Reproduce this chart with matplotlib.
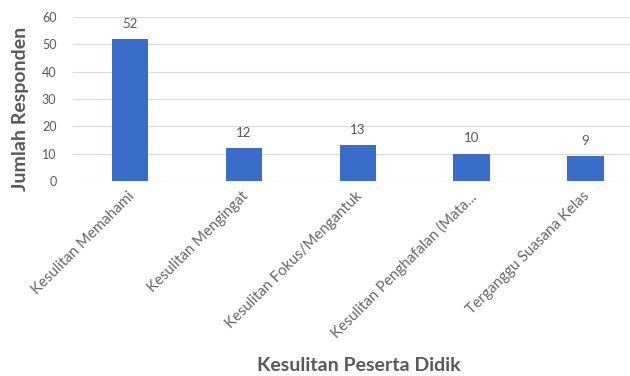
import matplotlib.pyplot as plt
from matplotlib.transforms import ScaledTranslation

# Data
categories = [
    "Kesulitan Memahami",
    "Kesulitan Mengingat",
    "Kesulitan Fokus/Mengantuk",
    "Kesulitan Penghafalan (Mata...",
    "Terganggu Suasana Kelas",
]
values = [52, 12, 13, 10, 9]
y_ticks = [0, 10, 20, 30, 40, 50, 60]

bar_color = "#3a6cc9"
text_gray = "#595959"

plt.rcParams['font.family'] = ['Lato', 'DejaVu Sans']

fig = plt.figure(figsize=(6.3, 3.76), dpi=100)
ax = fig.add_axes([0.116, 0.519, 0.884, 0.436])

x = range(len(categories))
bars = ax.bar(x, values, width=0.32, color=bar_color, zorder=3)

for b, v in zip(bars, values):
    ax.annotate(str(v), (b.get_x() + b.get_width() / 2, v), xytext=(0, 11),
                textcoords='offset points', ha='center', va='center',
                fontsize=9.5, color=text_gray, annotation_clip=False)

ax.set_xlim(-0.5, 4.39)
ax.set_ylim(0, 60)
ax.set_yticks(y_ticks)
ax.tick_params(axis='y', length=0, labelsize=9, labelcolor=text_gray, pad=12)
ax.set_xticks(list(x))
ax.set_xticklabels(categories, rotation=45, ha='right', rotation_mode='anchor',
                   fontsize=10.8, color='#666666')
ax.tick_params(axis='x', length=0, pad=6)
# small shift so the label ends line up like the original
for lbl in ax.get_xticklabels():
    lbl.set_transform(lbl.get_transform() + ScaledTranslation(-2 / 72, 0, fig.dpi_scale_trans))

ax.grid(axis='y', color='#d9d9d9', linewidth=0.8, zorder=0)
for s in ax.spines.values():
    s.set_visible(False)

fig.text(0.032, 0.71, 'Jumlah Responden', rotation=90, ha='center', va='center',
         fontsize=14, fontweight='bold', color=text_gray)
fig.text(0.57, 0.027, 'Kesulitan Peserta Didik', ha='center', va='center',
         fontsize=14, fontweight='bold', color=text_gray)

plt.savefig('out.png', dpi=100)
